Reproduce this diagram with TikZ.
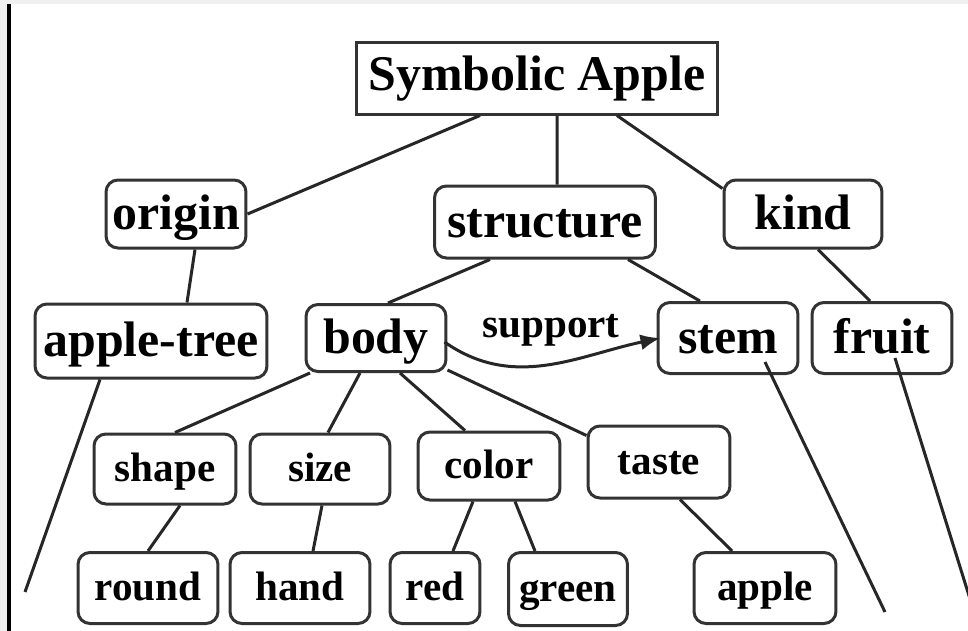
\documentclass[tikz,border=0pt]{standalone}
\usepackage{fontspec}
\setmainfont{Liberation Serif}
\usetikzlibrary{arrows.meta}

\tikzset{
  box/.style={draw=black!80, line width=0.3mm, fill=white, rounded corners=1.2mm,
    inner sep=0pt, text height=0.9em, text depth=0pt,
    font=\fontsize{14.2}{16}\selectfont\bfseries},
  leaf/.style={box, text height=0.7em, font=\fontsize{11.7}{13}\selectfont\bfseries},
  link/.style={line width=0.3mm, black!85},
}

\begin{document}
\begin{tikzpicture}[x=0.1mm, y=-0.1mm]

\useasboundingbox (0,0) rectangle (968,631);
\fill[black!6] (0,0) rectangle (968,631);
\fill[white] (7,4) rectangle (968,631);
\draw[line width=0.4mm] (9,4)--(9,631);

\node [box, rounded corners=0pt, text height=0.72em, minimum width=36.2mm, minimum height=7.2mm] (symapple) at (537,78) {Symbolic Apple};

\node [box, minimum width=14mm, minimum height=6.8mm] (origin) at (176,214) {origin};
\node [box, minimum width=22.1mm, minimum height=7.2mm] (structure) at (545,222) {structure};
\node [box, minimum width=15.8mm, minimum height=6.8mm] (kind) at (803,214) {kind};

\node [box, minimum width=23.2mm, minimum height=7.4mm] (appletree) at (151,341) {apple-tree};
\node [box, minimum width=14mm, minimum height=6.7mm] (body) at (376,338) {body};
\node [box, minimum width=14mm, minimum height=7.1mm] (stem) at (728,338) {stem};
\node [box, minimum width=14mm, minimum height=7.1mm] (fruit) at (882,338) {fruit};

\node [leaf, minimum width=14.2mm, minimum height=7mm] (shape) at (165,469) {shape};
\node [leaf, minimum width=14mm, minimum height=7mm] (size) at (320,469) {size};
\node [leaf, minimum width=14.2mm, minimum height=6.8mm] (color) at (489,466) {color};
\node [leaf, minimum width=14.2mm, minimum height=7.2mm] (taste) at (659,462) {taste};

\node [leaf, minimum width=14mm, minimum height=7.1mm] (round) at (148,588) {round};
\node [leaf, minimum width=14mm, minimum height=7.1mm] (hand) at (300,588) {hand};
\node [leaf, minimum width=9mm, minimum height=7.1mm] (red) at (435,588) {red};
\node [leaf, minimum width=11.9mm, minimum height=7.3mm] (green) at (568,589) {green};
\node [leaf, minimum width=14.2mm, minimum height=7.1mm] (apple) at (765,588) {apple};

\node [font=\fontsize{11.7}{13}\selectfont\bfseries] (support) at (551,330) {support};

% loose ends running off the page
\coordinate (treeend) at (25,592);
\coordinate (stemend) at (885,612);
\coordinate (fruitend) at (980,631);

\draw[link] ([xshift=-5.7mm]symapple.south)--(origin.east);
\draw[link] ([xshift=2mm]symapple.south)--([xshift=1.2mm]structure.north);
\draw[link] ([xshift=8mm]symapple.south)--([yshift=-1mm]kind.north west);

\draw[link] ([xshift=1.9mm]origin.south)--([xshift=3.6mm]appletree.north);
\draw[link] ([xshift=-5.5mm]structure.south)--([xshift=1.2mm]body.north);
\draw[link] ([xshift=8.3mm]structure.south)--([xshift=-2.8mm]stem.north);
\draw[link] ([xshift=1.5mm]kind.south)--([xshift=-1.2mm]fruit.north);

\draw[link, -{Latex[length=2mm,width=1.6mm]}] ([xshift=-0.3mm,yshift=-0.4mm]body.east) to[out=-35,in=192] ([xshift=0.4mm]stem.west);

\draw[link] ([xshift=-5.1mm]appletree.south)--(treeend);
\draw[link] ([shift={(3.7mm,-2.4mm)}]stem.center)--(stemend);
\draw[link] ([shift={(1.3mm,-2mm)}]fruit.center)--(fruitend);

\draw[link] ([xshift=-6.6mm]body.south)--([xshift=1mm]shape.north);
\draw[link] ([xshift=-1.6mm]body.south)--([xshift=0.8mm]size.north);
\draw[link] ([xshift=2.4mm]body.south)--([xshift=-2.4mm]color.north);
\draw[link] ([yshift=0.3mm]body.south east)--([yshift=-1.1mm]taste.north west);

\draw[link] ([xshift=1.5mm]shape.south)--(round.north);
\draw[link] ([xshift=0.2mm]size.south)--([xshift=1.3mm]hand.north);
\draw[link] ([xshift=-1.6mm]color.south)--([xshift=1.8mm]red.north);
\draw[link] ([xshift=2.6mm]color.south)--([xshift=-3.3mm]green.north);
\draw[link] ([xshift=2.1mm]taste.south)--([xshift=-3.3mm]apple.north);

\end{tikzpicture}
\end{document}
